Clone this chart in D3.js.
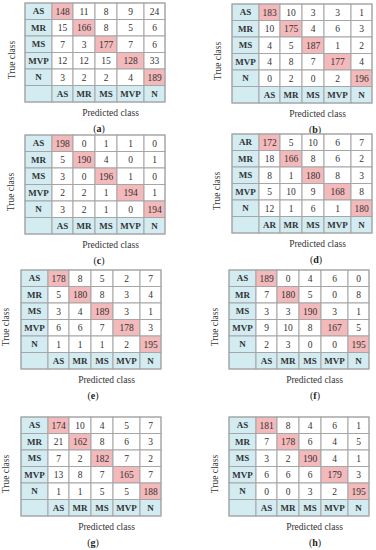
<!DOCTYPE html>
<html><head><meta charset="utf-8">
<script src="https://cdn.jsdelivr.net/npm/d3@7"></script>
<style>
html,body{margin:0;padding:0;background:#fff;}
svg{display:block;}
</style></head>
<body>
<script>
// ---- data ----
const classes = ["AS","MR","MS","MVP","N"];
const classesD = ["AR","MR","MS","MVP","N"];
const panelLabels = ["a","b","c","d","e","f","g","h"];
const matA = [[148,11,8,9,24],[15,166,8,5,6],[7,3,177,7,6],[12,12,15,128,33],[3,2,2,4,189]];
const matB = [[183,10,3,3,1],[10,175,4,6,3],[4,5,187,1,2],[4,8,7,177,4],[0,2,0,2,196]];
const matC = [[198,0,1,1,0],[5,190,4,0,1],[3,0,196,1,0],[2,2,1,194,1],[3,2,1,0,194]];
const matD = [[172,5,10,6,7],[18,166,8,6,2],[8,1,180,8,3],[5,10,9,168,8],[12,1,6,1,180]];
const matE = [[178,8,5,2,7],[5,180,8,3,4],[3,4,189,3,1],[6,6,7,178,3],[1,1,1,2,195]];
const matF = [[189,0,4,6,0],[7,180,5,0,8],[3,3,190,3,1],[9,10,8,167,5],[2,3,0,0,195]];
const matG = [[174,10,4,5,7],[21,162,8,6,3],[7,2,182,7,2],[13,8,7,165,7],[1,1,5,5,188]];
const matH = [[181,8,4,6,1],[7,178,6,4,5],[3,2,190,4,1],[6,6,6,179,3],[0,0,3,2,195]];
const matrices = [matA,matB,matC,matD,matE,matF,matG,matH];
const axisTitleY = "True class";
const axisTitleX = "Predicted class";

// ---- layout ----
const panelPos = [
  {x:25,y:3,lx:99,tx:12},{x:232,y:4,lx:315,tx:218},
  {x:25,y:135,lx:99,tx:11},{x:232,y:134,lx:316,tx:217},
  {x:21,y:270,lx:93,tx:6},{x:229,y:270,lx:315,tx:215},
  {x:21,y:417,lx:93,tx:6},{x:229,y:417,lx:315,tx:215}
];
const colW = [27,21,22,22,27,21];
const tableH = 99;
const blue = "#d3ecf2", pink = "#f3b9bb", border = "#a6a6a6", txt = "#333";
const serif = "'Liberation Serif','DejaVu Serif',serif";

const W = 376, H = 550;
const svg = d3.select("body").append("svg").attr("width",W).attr("height",H);

matrices.forEach((m,pi)=>{
  const p = panelPos[pi];
  const labs = pi===3 ? classesD : classes;
  const g = svg.append("g").attr("transform",`translate(${p.x},${p.y})`);
  // column edges
  const edges = [0]; colW.forEach(w=>edges.push(edges[edges.length-1]+w));
  const cols = ["label"].concat(labs);
  const xEdge = i => edges[i];
  const y = d3.scaleBand().domain(d3.range(6)).range([0,tableH]);
  // cells
  const cells = [];
  for(let r=0;r<6;r++){
    for(let c=0;c<6;c++){
      let fill="#fff", text="", bold=false;
      if(r<5 && c===0){fill=blue;text=labs[r];bold=true;}
      else if(r===5 && c===0){fill=blue;}
      else if(r===5){fill=blue;text=labs[c-1];bold=true;}
      else {text=String(m[r][c-1]); if(r===c-1) fill=pink;}
      cells.push({r,c,fill,text,bold});
    }
  }
  g.selectAll("rect.cell").data(cells).join("rect")
    .attr("x",d=>xEdge(d.c)).attr("y",d=>y(d.r))
    .attr("width",d=>colW[d.c]).attr("height",y.bandwidth())
    .attr("fill",d=>d.fill).attr("stroke",border).attr("stroke-width",1);
  g.selectAll("text.cell").data(cells.filter(d=>d.text)).join("text")
    .attr("x",d=>xEdge(d.c)+colW[d.c]/2).attr("y",d=>y(d.r)+y.bandwidth()/2)
    .attr("dy","0.35em").attr("text-anchor","middle")
    .attr("font-family",serif).attr("font-size",d=>d.bold?9:9.5)
    .attr("font-weight",d=>d.bold?"bold":"normal")
    .attr("fill",txt).text(d=>d.text);
  // outer border
  g.append("rect").attr("x",0).attr("y",0).attr("width",edges[6]).attr("height",tableH)
    .attr("fill","none").attr("stroke",border).attr("stroke-width",1);
  // axis titles
  svg.append("text")
    .attr("transform",`translate(${p.tx},${p.y+57}) rotate(-90)`)
    .attr("text-anchor","middle").attr("dy","0.35em")
    .attr("font-family",serif).attr("font-size",9.5).attr("fill",txt)
    .text(axisTitleY);
  const dataCenter = p.x + (edges[1]+edges[6])/2 + 2;
  svg.append("text")
    .attr("x",dataCenter).attr("y",p.y+tableH+11).attr("dy","0.35em")
    .attr("text-anchor","middle").attr("font-family",serif).attr("font-size",9.5).attr("fill",txt)
    .text(axisTitleX);
  const lab = svg.append("text")
    .attr("x",p.lx).attr("y",p.y+tableH+26).attr("dy","0.35em")
    .attr("text-anchor","middle").attr("font-family",serif).attr("font-size",10).attr("fill","#222");
  lab.append("tspan").text("(");
  lab.append("tspan").attr("font-weight","bold").text(panelLabels[pi]);
  lab.append("tspan").text(")");
});
</script>
</body></html>
